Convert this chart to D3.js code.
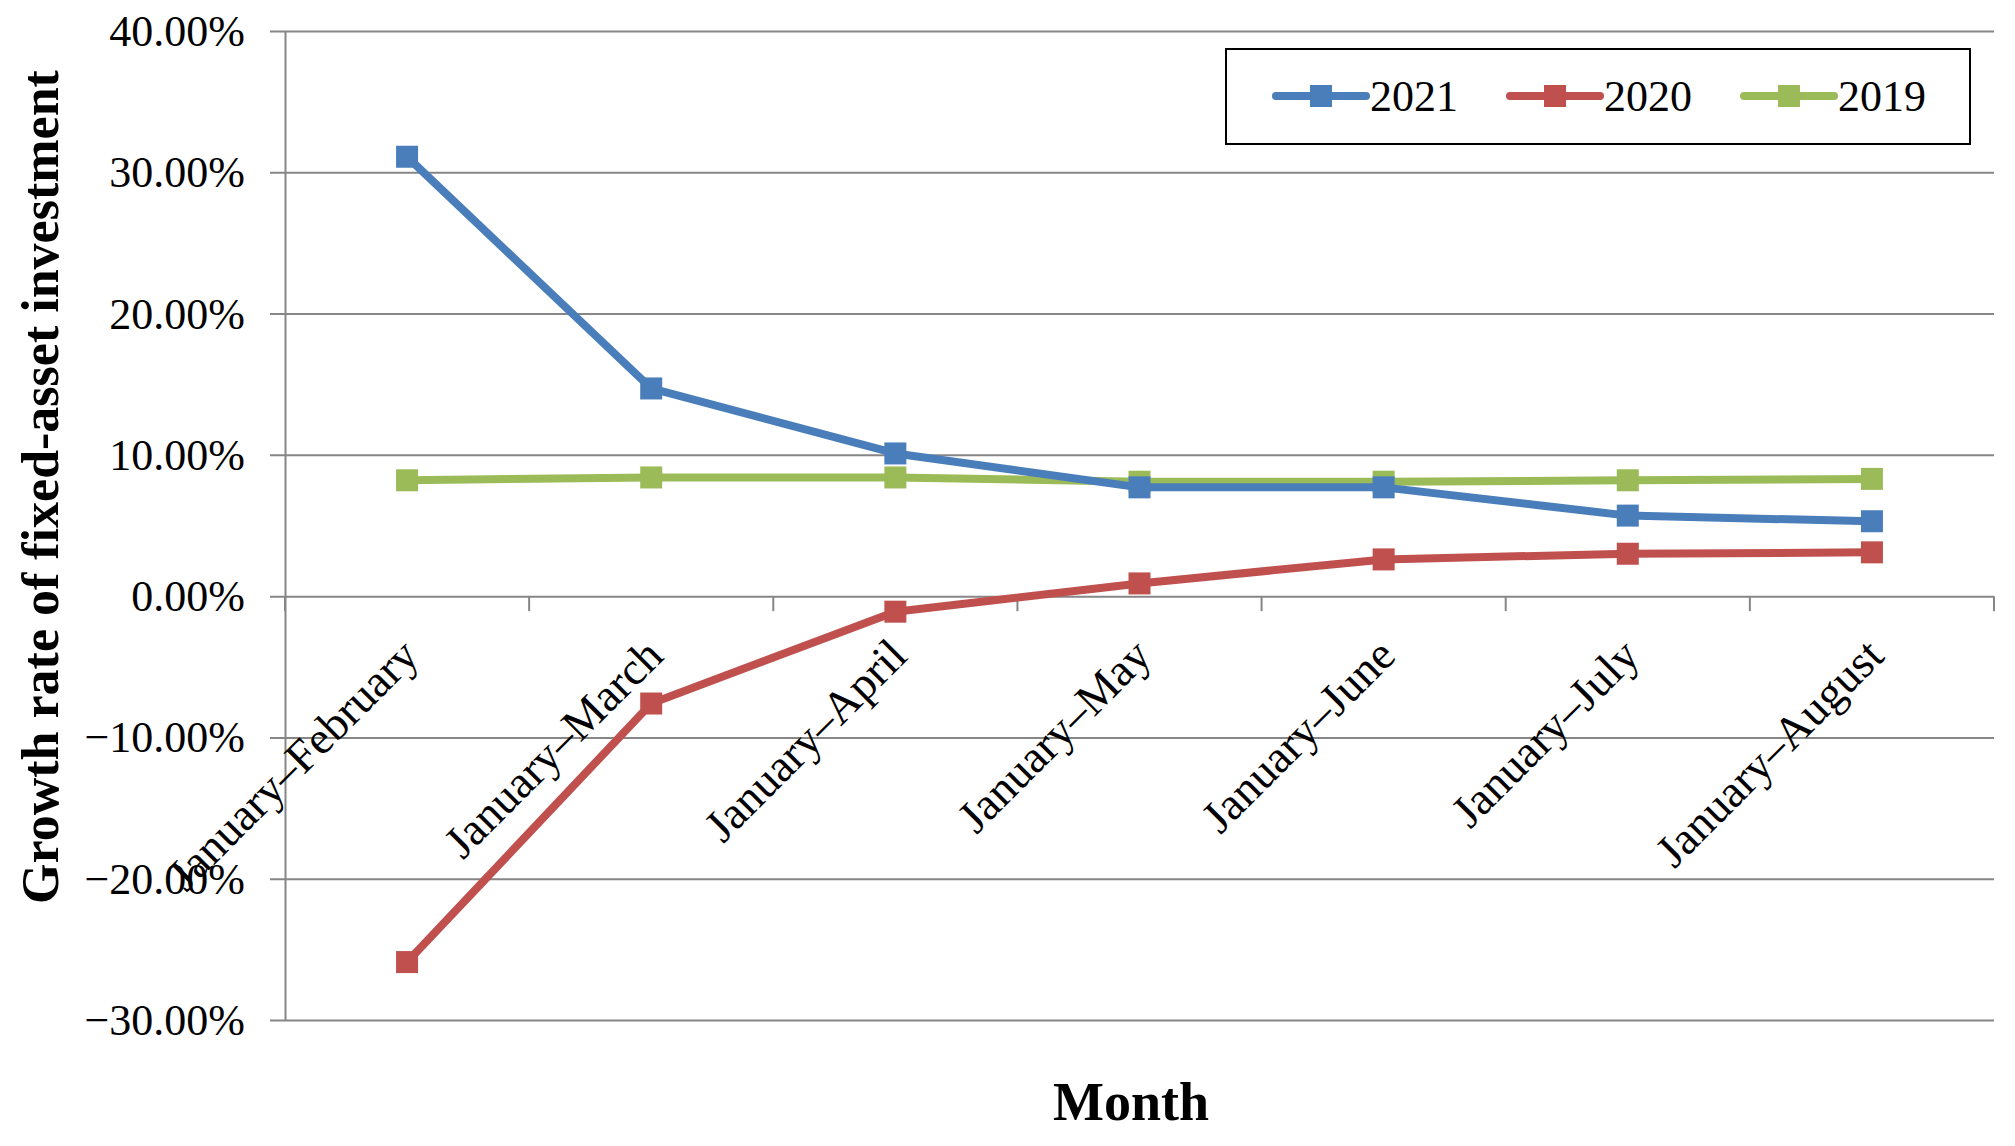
<!DOCTYPE html>
<html>
<head>
<meta charset="utf-8">
<script src="https://cdn.jsdelivr.net/npm/d3@7"></script>
<style>
  html, body { margin: 0; padding: 0; background: #fff; }
  svg { display: block; }
  svg text { font-family: "Liberation Serif", "Times New Roman", serif !important; fill: #000; }
</style>
</head>
<body>
<svg id="chart" width="2015" height="1146"></svg>
<script>
const categories = ["January–February", "January–March", "January–April", "January–May", "January–June", "January–July", "January–August"];
const values2021 = [31.1, 14.7, 10.1, 7.7, 7.7, 5.7, 5.3];
const values2020 = [-25.9, -7.6, -1.1, 0.9, 2.6, 3.0, 3.1];
const values2019 = [8.2, 8.4, 8.4, 8.1, 8.1, 8.2, 8.3];
const seriesNames = ["2021", "2020", "2019"];
const seriesColors = ["#4A7EBB", "#C0504D", "#9BBB59"];
const yTicks = [40, 30, 20, 10, 0, -10, -20, -30];
const yTitle = "Growth rate of fixed-asset investment";
const xTitle = "Month";

(function () {
const FONT = '"Liberation Serif", "Times New Roman", serif';
const series = [values2021, values2020, values2019].map((v, i) => ({ name: seriesNames[i], color: seriesColors[i], values: v }));

const svg = d3.select("#chart");
const pL = 285, pR = 1994, pT = 31, pB = 1020;

const x = d3.scaleBand().domain(categories).range([pL, pR]).padding(0);
const y = d3.scaleLinear().domain([-30, 40]).range([pB, pT]);
const cx = c => x(c) + x.bandwidth() / 2;

// Y axis with gridlines
const fmt = d => (d < 0 ? "\u2212" : "") + Math.abs(d).toFixed(2) + "%";
const yAxis = svg.append("g")
  .attr("transform", `translate(${pL},0)`)
  .call(d3.axisLeft(y).tickValues(yTicks).tickFormat(fmt)
    .tickSizeInner(-(pR - pL)).tickSizeOuter(0).tickPadding(40));
yAxis.attr("font-family", FONT).attr("font-size", 44);
yAxis.select(".domain").attr("stroke", "#868686").attr("stroke-width", 2);
yAxis.selectAll(".tick line").attr("x1", -15).attr("stroke", "#868686").attr("stroke-width", 2);
yAxis.selectAll(".tick text").style("font-family", FONT).style("font-size", "44px").attr("fill", "#000").attr("dy", "0.33em");

// X axis ticks at category boundaries on the zero line
const y0 = y(0);
const boundaries = categories.map(c => x(c)).concat([pR]);
svg.append("g").selectAll("line").data(boundaries).join("line")
  .attr("x1", d => d).attr("x2", d => d)
  .attr("y1", y0).attr("y2", y0 + 15)
  .attr("stroke", "#868686").attr("stroke-width", 2);

// X labels rotated
svg.append("g").selectAll("text").data(categories).join("text")
  .attr("text-anchor", "end")
  .style("font-family", FONT).style("font-size", "46px")
  .attr("transform", d => `translate(${cx(d) + 14},${y0 + 62}) rotate(-45)`)
  .text(d => d);

// Lines and markers
const line = d3.line().x((d, i) => cx(categories[i])).y(d => y(d));
const gS = svg.append("g");
series.slice().reverse().forEach(s => {
  gS.append("path").attr("d", line(s.values)).attr("fill", "none")
    .attr("stroke", s.color).attr("stroke-width", 8).attr("stroke-linejoin", "round");
  gS.selectAll(null).data(s.values).join("rect")
    .attr("x", (d, i) => cx(categories[i]) - 11).attr("y", d => y(d) - 11)
    .attr("width", 22).attr("height", 22).attr("fill", s.color);
});

// Axis titles
svg.append("text").attr("transform", "translate(58,487) rotate(-90)")
  .attr("text-anchor", "middle").style("font-family", FONT).style("font-size", "52px").attr("font-weight", "bold").text(yTitle);
svg.append("text").attr("x", 1131).attr("y", 1120)
  .attr("text-anchor", "middle").style("font-family", FONT).style("font-size", "54px").attr("font-weight", "bold").text(xTitle);

// Legend
const lg = svg.append("g");
lg.append("rect").attr("x", 1226).attr("y", 49).attr("width", 744).attr("height", 95)
  .attr("fill", "#fff").attr("stroke", "#000").attr("stroke-width", 2);
const items = lg.selectAll("g.item").data(series).join("g").attr("class", "item")
  .attr("transform", (d, i) => `translate(${1276 + i * 234},96)`);
items.append("line").attr("x1", 0).attr("x2", 90).attr("y1", 0).attr("y2", 0)
  .attr("stroke", d => d.color).attr("stroke-width", 8).attr("stroke-linecap", "round");
items.append("rect").attr("x", 34).attr("y", -11).attr("width", 22).attr("height", 22).attr("fill", d => d.color);
items.append("text").attr("x", 94).attr("y", 15).style("font-family", FONT).style("font-size", "44px").text(d => d.name);
})();
</script>
</body>
</html>
